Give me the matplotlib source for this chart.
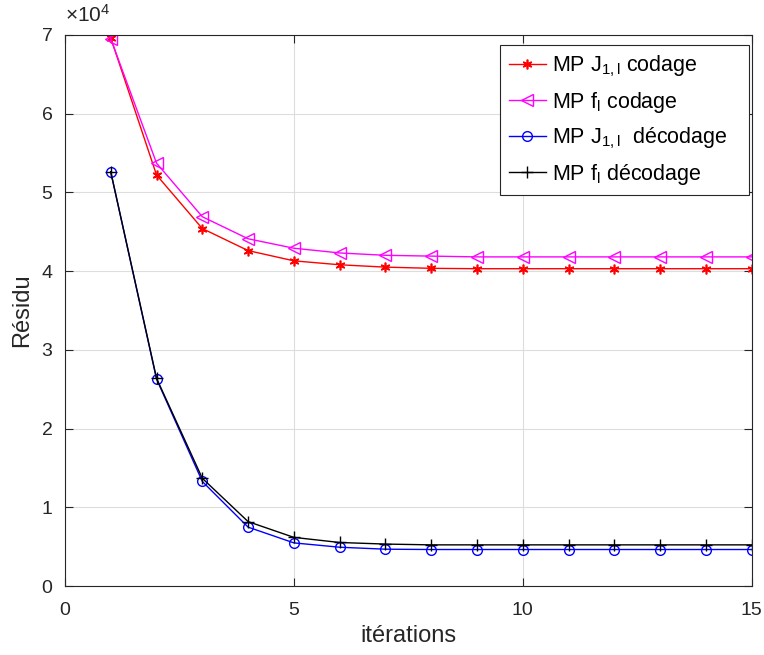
import matplotlib
matplotlib.use("Agg")
import matplotlib.pyplot as plt
from matplotlib.ticker import FuncFormatter

iterations = list(range(1, 16))
mp_j_codage = [69600, 52200, 45400, 42600, 41300, 40800, 40500, 40350, 40300, 40300, 40300, 40300, 40300, 40300, 40300]
mp_f_codage = [69500, 53700, 46900, 44100, 42900, 42300, 42000, 41900, 41800, 41800, 41800, 41800, 41800, 41800, 41800]
mp_j_decodage = [52600, 26300, 13300, 7500, 5500, 4950, 4700, 4660, 4660, 4660, 4660, 4660, 4660, 4660, 4660]
mp_f_decodage = [52600, 26400, 13700, 8200, 6200, 5550, 5350, 5250, 5250, 5250, 5250, 5250, 5250, 5250, 5250]

labels = ['MP J$_{\\mathregular{1,l}}$ codage', 'MP f$_{\\mathregular{l}}$ codage',
          'MP J$_{\\mathregular{1,l}}$  décodage   ', 'MP f$_{\\mathregular{l}}$ décodage']

plt.rcParams['font.family'] = ['Liberation Sans', 'DejaVu Sans']
plt.rcParams['mathtext.fontset'] = 'custom'
plt.rcParams['mathtext.rm'] = 'Liberation Sans'
plt.rcParams['mathtext.it'] = 'Liberation Sans'

fig = plt.figure(figsize=(7.64, 6.55), dpi=100)
ax = fig.add_axes([0.085, 0.105, 0.899, 0.842])

ax.plot(iterations, mp_j_codage, color='red', marker=(6, 2, 0), markersize=7, mew=1.2, lw=1, label=labels[0])
ax.plot(iterations, mp_f_codage, color='magenta', marker='<', markersize=8, mfc='none', lw=1, label=labels[1])
ax.plot(iterations, mp_j_decodage, color='blue', marker='o', markersize=7, mfc='none', lw=1, label=labels[2])
ax.plot(iterations, mp_f_decodage, color='black', marker='+', markersize=8, lw=1, label=labels[3])

ax.set_xlim(0, 15)
ax.set_ylim(0, 70000)
ax.set_xticks([0, 5, 10, 15])
ax.set_yticks([i * 10000 for i in range(8)])
ax.yaxis.set_major_formatter(FuncFormatter(lambda v, p: '%d' % round(v / 10000)))
ax.text(0.0, 1.016, r'$\times\mathregular{10^4}$', transform=ax.transAxes, fontsize=15,
        color='#262626', ha='left', va='bottom')

ax.grid(True, color='#dddddd', lw=0.8)
ax.set_axisbelow(True)
ax.tick_params(direction='in', top=True, right=True, labelsize=14, colors='#262626', length=6)
ax.tick_params(axis='x', pad=11)
ax.tick_params(axis='y', pad=9)
for s in ax.spines.values():
    s.set_color('#262626')
    s.set_linewidth(0.8)

ax.set_xlabel('itérations', fontsize=17, color='#262626', labelpad=5)
ax.set_ylabel('Résidu', fontsize=17, color='#262626', labelpad=6)

leg = ax.legend(loc='upper right', bbox_to_anchor=(0.9956, 0.982), fontsize=15.5, fancybox=False,
                framealpha=1, edgecolor='#262626', borderaxespad=0.0, handlelength=1.75,
                handletextpad=0.25, labelspacing=0.5, borderpad=0.4)
leg.get_frame().set_linewidth(0.8)

fig.savefig('out.png', dpi=100)
